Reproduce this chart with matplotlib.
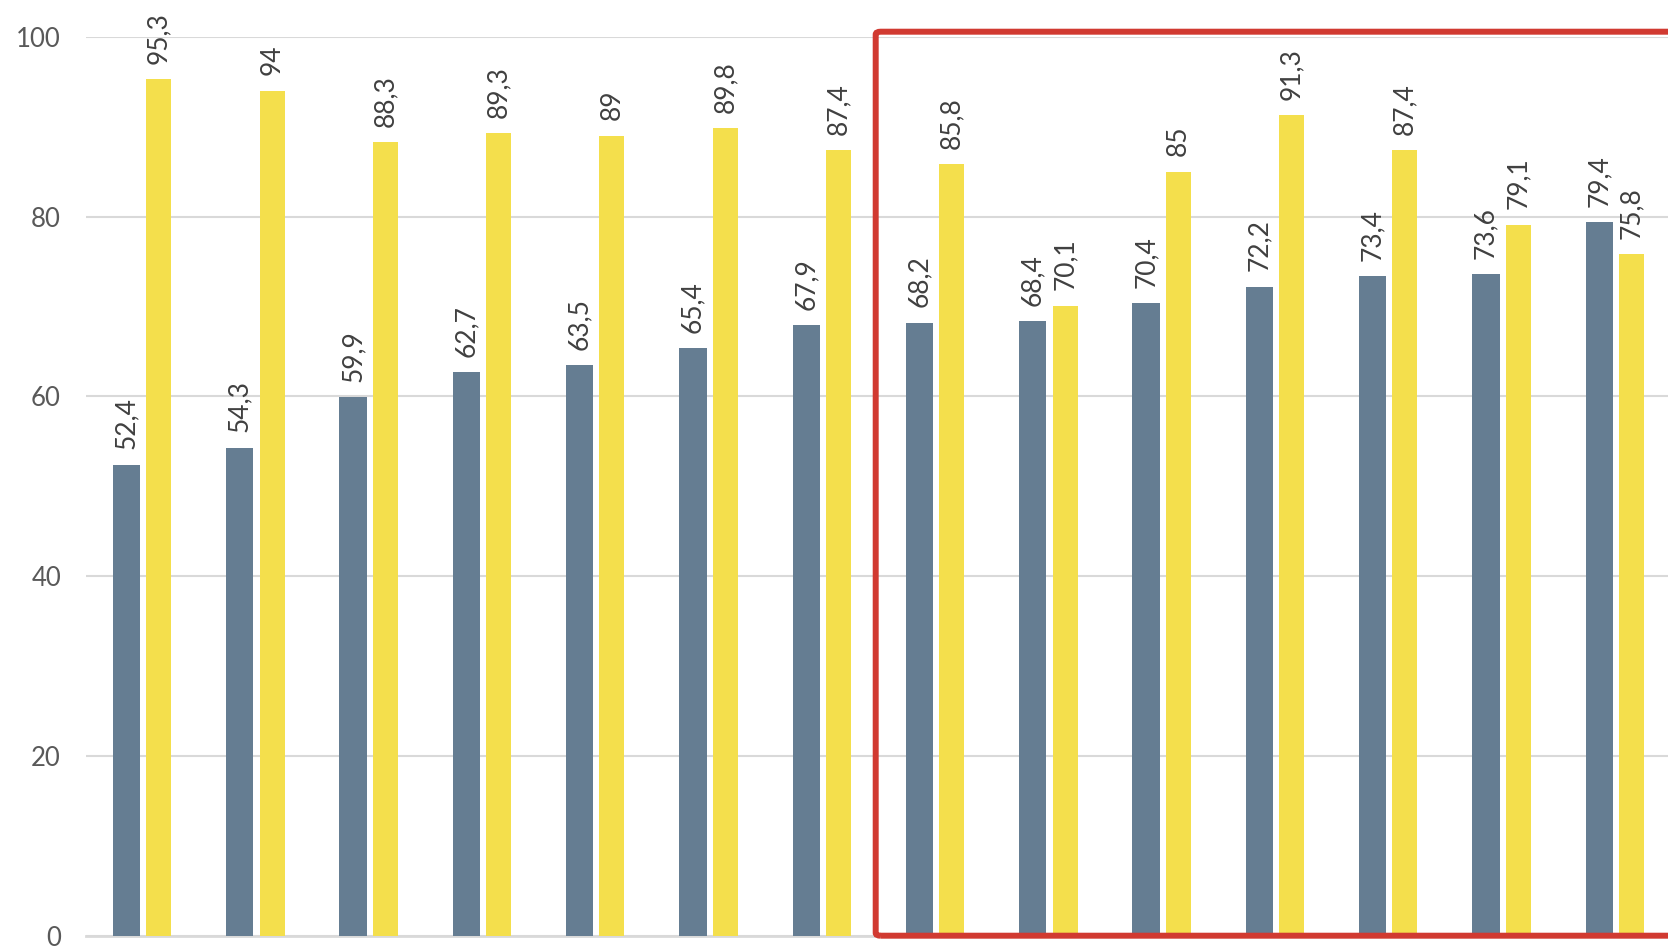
import numpy as np
import matplotlib.pyplot as plt
from matplotlib.patches import FancyBboxPatch

# values
series_a = [52.4, 54.3, 59.9, 62.7, 63.5, 65.4, 67.9, 68.2, 68.4, 70.4, 72.2, 73.4, 73.6, 79.4]
series_b = [95.3, 94.0, 88.3, 89.3, 89.0, 89.8, 87.4, 85.8, 70.1, 85.0, 91.3, 87.4, 79.1, 75.8]
y_ticks = [0, 20, 40, 60, 80, 100]

color_a = '#657d92'
color_b = '#f4df4c'
grid_color = '#d9d9d9'

plt.rcParams['font.family'] = ['Lato', 'DejaVu Sans']

W, H = 1668, 946
fig = plt.figure(figsize=(W / 100, H / 100), dpi=100)
fig.patch.set_facecolor('white')

# axes placed in pixels: x from 86 to 1672, y=0 at 936, y=100 at 36.7
ax = fig.add_axes([86 / W, (H - 936) / H, (1672 - 86) / W, (936 - 36.7) / H])

x = np.arange(len(series_a))
off = 0.1425
bars_a = ax.bar(x - off, series_a, width=0.24, color=color_a, zorder=3)
bars_b = ax.bar(x + off, series_b, width=0.22, color=color_b, zorder=3)


def fmt(v):
    s = f'{v:.1f}'
    if s.endswith('.0'):
        s = s[:-2]
    return s.replace('.', ',')


for bars, vals in ((bars_a, series_a), (bars_b, series_b)):
    for b, v in zip(bars, vals):
        ax.annotate(fmt(v), (b.get_x() + b.get_width() / 2, v),
                    xytext=(0, 11), textcoords='offset points',
                    rotation=90, ha='center', va='bottom',
                    fontsize=19, color='#404040', zorder=4)

ax.set_xlim(-0.5, len(series_a) - 0.5)
ax.set_ylim(0, 100)
ax.set_yticks(y_ticks)
ax.set_yticklabels([str(t) for t in y_ticks])
ax.set_xticks([])
ax.tick_params(axis='y', length=0, pad=18, labelsize=18.5, labelcolor='#595959')
ax.yaxis.grid(True, color=grid_color, linewidth=1.5, zorder=0)
for s in ['top', 'right', 'left']:
    ax.spines[s].set_visible(False)
ax.spines['bottom'].set_color(grid_color)
ax.spines['bottom'].set_linewidth(2)
ax.spines['bottom'].set_zorder(1)

# red highlight frame (runs off the right edge)
left_px, top_px, bot_px = 875.7, 31.7, 935.7
box = FancyBboxPatch((left_px / W, (H - bot_px) / H),
                     (W + 40 - left_px) / W, (bot_px - top_px) / H,
                     boxstyle='round,pad=0,rounding_size=0.003',
                     transform=fig.transFigure, fill=False,
                     edgecolor='#d13a31', linewidth=4.3, zorder=10)
fig.patches.append(box)

fig.savefig('out.png', dpi=100)
